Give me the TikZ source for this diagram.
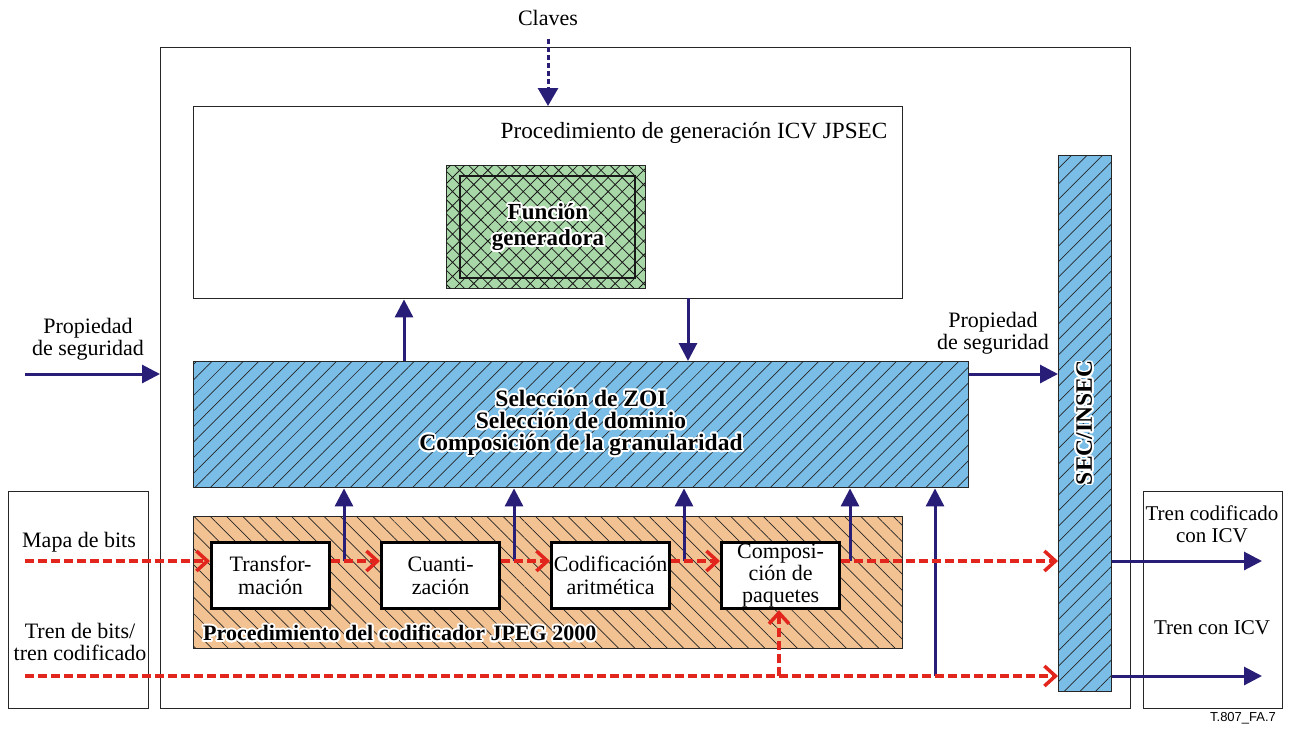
\documentclass[tikz,border=0pt]{standalone}
\usepackage{fontspec}
\setmainfont{Liberation Serif}
\setsansfont{Liberation Sans}
\usepackage[copies]{contour}
\contourlength{1.8pt}
\contournumber{24}
\usetikzlibrary{arrows.meta,patterns.meta}

\definecolor{zoiblue}{RGB}{122,190,232}
\definecolor{encorange}{RGB}{242,194,146}
\definecolor{gengreen}{RGB}{168,216,168}
\definecolor{ctrlnavy}{RGB}{40,30,120}
\definecolor{datared}{RGB}{226,38,30}

\newcommand\halo[1]{\contour{white}{#1}}

\begin{document}
\begin{tikzpicture}[x=1pt,y=-1pt,
  every node/.style={font=\fontsize{22}{22}\selectfont, inner sep=0pt, align=center},
  frame/.style={draw=black!85, line width=1.4pt},
  bluehatch/.style={frame, fill=zoiblue,
    postaction={pattern={Lines[angle=45,distance=11pt,line width=0.7pt]}, pattern color=black!85}},
  orangehatch/.style={frame, fill=encorange,
    postaction={pattern={Lines[angle=-45,distance=11.5pt,line width=0.7pt]}, pattern color=black!85}},
  greenhatch/.style={frame, fill=gengreen,
    postaction={pattern={Hatch[angle=45,distance=10pt,line width=0.8pt]}, pattern color=black!90}},
  stagebox/.style={draw, line width=3.2pt, fill=white, minimum width=118pt, minimum height=66pt,
    anchor=north west, font=\fontsize{22}{23}\selectfont},
  boldlabel/.style={font=\fontsize{22}{22}\selectfont\bfseries},
  biglabel/.style={font=\fontsize{23.5}{22}\selectfont\bfseries},
  ctrl/.style={draw=ctrlnavy, line width=3pt, -{Triangle[length=18pt,width=18pt]}},
  keyarrow/.style={draw=ctrlnavy, line width=3pt, dash pattern=on 5pt off 3pt,
    -{Triangle[length=18pt,width=20pt]}},
  datum/.style={draw=datared, line width=3.5pt, dash pattern=on 9pt off 4pt,
    -{Straight Barb[length=11pt,width=20pt]}}
]
\useasboundingbox (0,0) rectangle (1290,729);

% outer frames
\node[frame, minimum width=970pt, minimum height=661pt, anchor=north west] (main) at (160,47) {};
\node[frame, minimum width=140pt, minimum height=217pt, anchor=north west] (src) at (8,491) {};
\node[frame, minimum width=139pt, minimum height=217pt, anchor=north west] (dst) at (1143,491) {};

% ICV generation procedure
\node[frame, fill=white, minimum width=709pt, minimum height=192pt, anchor=north west] (icv) at (193,106) {};
\node[font=\fontsize{23.2}{22}\selectfont] (icvlabel) at (694,133) {Procedimiento de generación ICV JPSEC};
\node[greenhatch, minimum width=199pt, minimum height=123pt, anchor=north west] (gen) at (446,165) {};
\draw[line width=1.3pt, black!90] (460,176) rectangle (635,278);
\node[font=\fontsize{23}{26}\selectfont\bfseries] (genlabel) at (548,228) {\halo{Función}\\\halo{generadora}};

% keys
\node (claves) at (548,18) {Claves};
\coordinate (k0) at (548,39);
\draw[keyarrow] (k0) -- (k0 |- icv.north);

% ZOI / domain / granularity selection
\node[bluehatch, minimum width=775pt, minimum height=126pt, anchor=north west] (zoi) at (193,361) {};
\node[biglabel] (zoilabel) at (581,424) {\halo{Selección de ZOI}\\\halo{Selección de dominio}\\\halo{Composición de la granularidad}};

% SEC/INSEC bar
\node[bluehatch, minimum width=53pt, minimum height=536pt, anchor=north west] (sec) at (1058,155) {};
\node[biglabel, rotate=90] (seclabel) at (1085,423) {\halo{SEC/INSEC}};

% JPEG 2000 encoder
\node[orangehatch, minimum width=709pt, minimum height=132pt, anchor=north west] (enc) at (193,516) {};
\node[boldlabel, anchor=west] (enclabel) at (203,634) {\halo{Procedimiento del codificador JPEG 2000}};
\node[stagebox] (tr) at (210,541) {Transfor-\\mación};
\node[stagebox] (cu) at (380,541) {Cuanti-\\zación};
\node[stagebox] (ca) at (550,541) {Codificación\\aritmética};
\node[stagebox, font=\fontsize{22}{22}\selectfont] (cp) at (720,541) {Composi-\\ción de\\paquetes};

% side labels
\node (propL) at (88,339) {Propiedad\\de seguridad};
\node (propR) at (993,333) {Propiedad\\de seguridad};
\node (mapa) at (79,542) {Mapa de bits};
\node (tren) at (80,642) {Tren de bits/\\tren codificado};
\node[font=\fontsize{21}{22}\selectfont] (outa) at (1212,524) {Tren codificado\\con ICV};
\node[font=\fontsize{21}{22}\selectfont] (outb) at (1212,628) {Tren con ICV};
\node[font=\sffamily\fontsize{13}{13}\selectfont] (tag) at (1243,718) {T.807\_FA.7};

% reference points on the data lines
\coordinate (m0) at (25,561);
\coordinate (b0) at (25,676);
\coordinate (p0) at (25,374);
\coordinate (t1) at (344,561);
\coordinate (t2) at (514,561);
\coordinate (t3) at (684,561);
\coordinate (t4) at (850,561);
\coordinate (t5) at (935,676);
\coordinate (b1) at (779,676);
\coordinate (a1) at (404,361);
\coordinate (a2) at (688,298);
\coordinate (o1) at (1262,561);
\coordinate (o2) at (1262,676);

% control flow
\draw[ctrl] (p0) -- (p0 -| main.west);
\draw[ctrl] (zoi.east |- p0) -- (sec.west |- p0);
\draw[ctrl] (a1) -- (a1 |- icv.south);
\draw[ctrl] (a2) -- (a2 |- zoi.north);
\draw[ctrl] (t1) -- (t1 |- zoi.south);
\draw[ctrl] (t2) -- (t2 |- zoi.south);
\draw[ctrl] (t3) -- (t3 |- zoi.south);
\draw[ctrl] (t4) -- (t4 |- zoi.south);
\draw[ctrl] (t5) -- (t5 |- zoi.south);
\draw[ctrl] (sec.east |- o1) -- (o1);
\draw[ctrl] (sec.east |- o2) -- (o2);

% data flow
\draw[datum] (m0) -- (m0 -| tr.west);
\draw[datum] (tr.east |- m0) -- (cu.west |- m0);
\draw[datum] (cu.east |- m0) -- (ca.west |- m0);
\draw[datum] (ca.east |- m0) -- (cp.west |- m0);
\draw[datum] (cp.east |- m0) -- (sec.west |- m0);
\draw[datum] (b0) -- (b0 -| sec.west);
\draw[datum] (b1) -- (b1 |- cp.south);
\end{tikzpicture}
\end{document}
